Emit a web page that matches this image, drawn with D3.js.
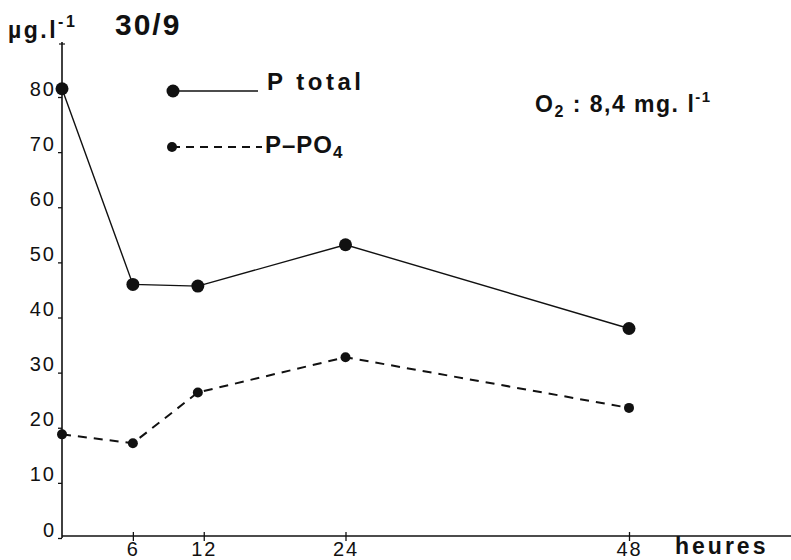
<!DOCTYPE html>
<meta charset="utf-8" />
<style>
  body { margin: 0; background: #fff; }
  text { fill: #111; }
</style>
<svg width="791" height="560"></svg>
<script src="https://d3js.org/d3.v7.min.js"></script>
<script>
    // data
    var hours = [0, 6, 11.5, 24, 48];
    var pTotal = [81.5, 46, 45.7, 53.2, 38];
    var pPO4 = [18.8, 17.2, 26.4, 32.8, 23.6];
    var xTicks = [6, 12, 24, 48];
    var yTicks = [0, 10, 20, 30, 40, 50, 60, 70, 80];

    var svg = d3.select("svg");
    var font = "'Liberation Sans', Arial, sans-serif";

    var x = d3.scaleLinear().domain([0, 48]).range([62, 629]);
    var y = d3.scaleLinear().domain([0, 80]).range([538, 97]);

    // axes
    var yAxis = d3.axisLeft(y).tickValues(yTicks).tickSize(4).tickPadding(2);
    var gy = svg.append("g").attr("transform", "translate(62,0)").call(yAxis);
    gy.select(".domain").remove();
    gy.append("line").attr("x1", 0).attr("x2", 0).attr("y1", 42).attr("y2", 538)
        .attr("stroke", "#111").attr("stroke-width", 1.6);
    gy.append("line").attr("x1", -3).attr("x2", 3).attr("y1", 44).attr("y2", 44)
        .attr("stroke", "#111").attr("stroke-width", 1.2);
    gy.selectAll(".tick line").attr("stroke", "#111").attr("stroke-width", 1.3);
    gy.selectAll(".tick text").attr("font-family", font).attr("font-size", 20)
        .attr("letter-spacing", 2).attr("dy", "-0.1em");

    var xAxis = d3.axisBottom(x).tickValues(xTicks).tickSize(5).tickPadding(1);
    var gx = svg.append("g").attr("transform", "translate(0,536)").call(xAxis);
    gx.select(".domain").remove();
    gx.append("line").attr("x1", 62).attr("x2", 791).attr("y1", 0).attr("y2", 0)
        .attr("stroke", "#111").attr("stroke-width", 1.6);
    gx.selectAll(".tick line").attr("y1", -4).attr("stroke", "#111").attr("stroke-width", 1.3);
    gx.selectAll(".tick text").attr("font-family", font).attr("font-size", 20)
        .attr("letter-spacing", 2);

    svg.append("text").attr("x", 675).attr("y", 554).attr("font-family", font)
        .attr("font-size", 23).attr("font-weight", "bold").attr("letter-spacing", 3).text("heures");

    // series
    var line = d3.line().x(d => x(d[0])).y(d => y(d[1]));
    var totData = hours.map((h, i) => [h, pTotal[i]]);
    var po4Data = hours.map((h, i) => [h, pPO4[i]]);

    svg.append("path").datum(totData).attr("d", line).attr("fill", "none")
        .attr("stroke", "#111").attr("stroke-width", 1.4);
    svg.append("path").datum(po4Data).attr("d", line).attr("fill", "none")
        .attr("stroke", "#111").attr("stroke-width", 2).attr("stroke-dasharray", "9,7");

    svg.append("g").selectAll("circle").data(totData).enter().append("circle")
        .attr("cx", d => x(d[0])).attr("cy", d => y(d[1])).attr("r", 6.5).attr("fill", "#111");
    svg.append("g").selectAll("circle").data(po4Data).enter().append("circle")
        .attr("cx", d => x(d[0])).attr("cy", d => y(d[1])).attr("r", 5).attr("fill", "#111");

    // legend
    var leg = svg.append("g");
    leg.append("line").attr("x1", 172).attr("x2", 258).attr("y1", 91).attr("y2", 91)
        .attr("stroke", "#111").attr("stroke-width", 1.4);
    leg.append("circle").attr("cx", 173).attr("cy", 91).attr("r", 6.5).attr("fill", "#111");
    leg.append("text").attr("x", 267).attr("y", 90).attr("font-family", font)
        .attr("font-size", 24).attr("font-weight", "bold").attr("letter-spacing", 3.5).text("P total");
    leg.append("line").attr("x1", 172).attr("x2", 262).attr("y1", 147).attr("y2", 147)
        .attr("stroke", "#111").attr("stroke-width", 2).attr("stroke-dasharray", "8,6");
    leg.append("circle").attr("cx", 172).attr("cy", 147).attr("r", 5).attr("fill", "#111");
    var t2 = leg.append("text").attr("x", 265).attr("y", 153).attr("font-family", font)
        .attr("font-size", 24).attr("font-weight", "bold").attr("letter-spacing", 1);
    t2.append("tspan").text("P–PO");
    t2.append("tspan").attr("dy", 5).attr("font-size", 17).text("4");

    // annotations
    var o2 = svg.append("text").attr("x", 535).attr("y", 112).attr("font-family", font)
        .attr("font-size", 23).attr("font-weight", "bold").attr("letter-spacing", 1.5);
    o2.append("tspan").text("O");
    o2.append("tspan").attr("dy", 5).attr("font-size", 16).text("2");
    o2.append("tspan").attr("dy", -5).text(" : 8,4 mg. l");
    o2.append("tspan").attr("dy", -10).attr("font-size", 15).text("-1");

    var unit = svg.append("text").attr("x", 8).attr("y", 38).attr("font-family", font)
        .attr("font-size", 23).attr("font-weight", "bold").attr("letter-spacing", 2.5);
    unit.append("tspan").text("µg.l");
    unit.append("tspan").attr("dy", -11).attr("font-size", 16).text("-1");

    svg.append("text").attr("x", 115).attr("y", 35).attr("font-family", font)
        .attr("font-size", 30).attr("font-weight", "bold").attr("letter-spacing", 2).text("30/9");
</script>
